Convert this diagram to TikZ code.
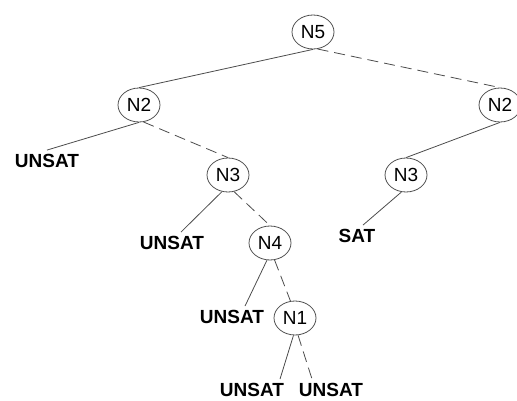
\documentclass[tikz,border=0pt]{standalone}
\usepackage{fontspec}
\setmainfont{Liberation Sans}
\usetikzlibrary{positioning,shapes.geometric}

\begin{document}
\begin{tikzpicture}[x=1pt,y=-1pt,on grid,var node/.style={ellipse,draw=black!70,line width=0.8pt,minimum width=42pt,minimum height=34pt,inner sep=0pt,font=\fontsize{19}{22}\selectfont},res node/.style={inner sep=4pt,font=\fontsize{19}{22}\selectfont\bfseries},branch/.style={draw=black!70,line width=0.8pt},neg/.style={branch,dash pattern=on 11pt off 6pt}]

        \clip (0,0) rectangle (517,401);

        \node[var node] (n5) at (313,32) {N5};
        \node[var node] (n2a) [below left=73pt and 174pt of n5] {N2};
        \node[var node] (n2b) [below right=73pt and 187pt of n5] {N2};
        \node[var node] (n3a) [below right=70pt and 89pt of n2a] {N3};
        \node[var node] (n3b) [below left=70pt and 94pt of n2b] {N3};
        \node[var node] (n4) [below right=68pt and 42pt of n3a] {N4};
        \node[var node] (n1) [below right=75pt and 25pt of n4] {N1};

        \node[res node] (u1) [below left=56pt and 92pt of n2a] {UNSAT};
        \node[res node] (u2) [below left=68pt and 56pt of n3a] {UNSAT};
        \node[res node] (sat) [below left=61pt and 49pt of n3b] {SAT};
        \node[res node] (u3) [below left=74pt and 38pt of n4] {UNSAT};
        \node[res node] (u4) [below left=72pt and 43pt of n1] {UNSAT};
        \node[res node] (u5) [below right=72pt and 36pt of n1] {UNSAT};

        \path
        (n5.south) edge[branch] (n2a.north)
        (n5.-75) edge[neg] (n2b.north)
        (n2a.south) edge[branch] (u1.north)
        (n2a.-75) edge[neg] (n3a.north)
        (n2b.south) edge[branch] (n3b.north)
        (n3a.-110) edge[branch] ([xshift=9pt]u2.north)
        (n3a.-70) edge[neg] (n4.north)
        (n3b.-105) edge[branch] ([xshift=6pt]sat.north)
        (n4.-100) edge[branch] ([xshift=13pt]u3.north)
        (n4.-75) edge[neg] (n1.105)
        (n1.-95) edge[branch] ([xshift=28pt]u4.north)
        (n1.-80) edge[neg] ([xshift=-19pt]u5.north);
    \end{tikzpicture}
\end{document}
